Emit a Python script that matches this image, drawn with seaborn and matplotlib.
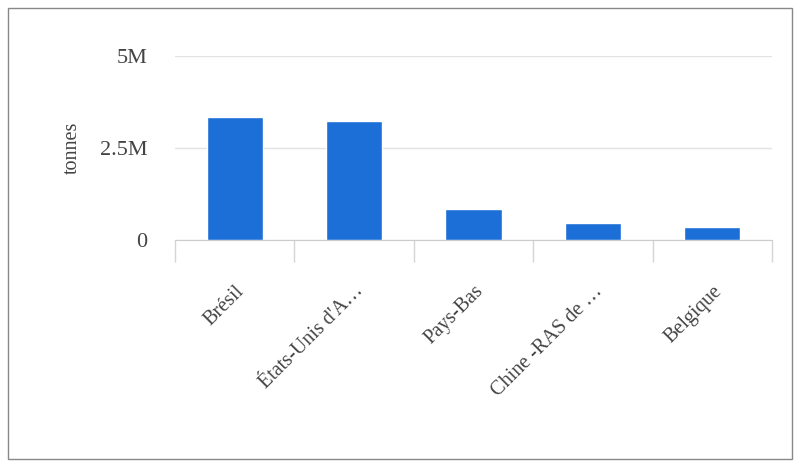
import matplotlib
matplotlib.use("Agg")
import matplotlib.pyplot as plt
import seaborn as sns
import pandas as pd
from matplotlib.patches import Rectangle
from matplotlib.ticker import FuncFormatter

# ── DATA ─────────────────────────────────────────────────────
pays = ["Brésil", "États-Unis d'A…", "Pays-Bas", "Chine -RAS de …", "Belgique"]
tonnes = [3.34e6, 3.23e6, 0.84e6, 0.46e6, 0.35e6]
yticks = [0, 2.5e6, 5e6]

df = pd.DataFrame({"pays": pays, "tonnes": tonnes})

# ── STYLE ────────────────────────────────────────────────────
sns.set_style("white")
plt.rcParams["font.family"] = ["Liberation Serif", "DejaVu Serif"]

fig = plt.figure(figsize=(8.01, 4.67), dpi=100)
ax = fig.add_axes([175 / 801, 227 / 467, 597 / 801, 184 / 467])

sns.barplot(data=df, x="pays", y="tonnes", color="#1c6fd6", width=0.47,
            saturation=1, ax=ax, zorder=3)

ax.set_ylim(0, 5e6)
ax.set_xlim(-0.5, len(pays) - 0.5)
ax.set_yticks(yticks)
ax.yaxis.set_major_formatter(FuncFormatter(
    lambda v, p: "0" if v == 0 else f"{v/1e6:g}M"))
ax.grid(axis="y", color="#e3e3e3", linewidth=1, zorder=0)
ax.set_xlabel("")
ax.set_ylabel("tonnes", fontsize=14.5, color="#444444", labelpad=13)

for s in ["top", "right", "left"]:
    ax.spines[s].set_visible(False)
ax.spines["bottom"].set_color("#cccccc")

# category boundary ticks
ax.set_xticks([i - 0.5 for i in range(len(pays) + 1)], minor=True)
ax.tick_params(axis="x", which="minor", bottom=True, length=16,
               color="#d5d5d5", width=1)
ax.tick_params(axis="x", which="major", length=0, pad=30)
ax.tick_params(axis="y", length=0, pad=20, labelsize=16, labelcolor="#444444")
ax.set_xticks(range(len(pays)))
ax.set_xticklabels(pays, rotation=45, ha="right", rotation_mode="anchor",
                   fontsize=14.5, color="#444444")

# outer border
fig.patches.append(Rectangle((8 / 801, 8 / 467), 784 / 801, 451 / 467,
                             transform=fig.transFigure, fill=False,
                             edgecolor="#888888", linewidth=1))

plt.savefig("out.png", dpi=100)
